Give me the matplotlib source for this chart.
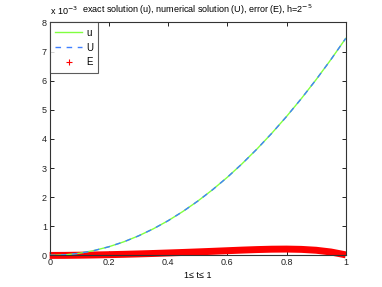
import matplotlib
matplotlib.use("Agg")
import matplotlib.pyplot as plt
from matplotlib.lines import Line2D

plt.rcParams['font.family'] = ['Liberation Sans', 'DejaVu Sans']

t = [0.00, 0.05, 0.10, 0.15, 0.20, 0.25, 0.30, 0.35, 0.40, 0.45, 0.50,
     0.55, 0.60, 0.65, 0.70, 0.75, 0.80, 0.85, 0.90, 0.95, 1.00]
u_exact = [0.000, 0.019, 0.075, 0.168, 0.298, 0.466, 0.671, 0.913, 1.192, 1.509, 1.863,
           2.254, 2.682, 3.148, 3.651, 4.191, 4.768, 5.383, 6.035, 6.724, 7.450]
U_num = [0.000, 0.019, 0.074, 0.167, 0.297, 0.465, 0.670, 0.912, 1.191, 1.508, 1.862,
         2.253, 2.681, 3.147, 3.650, 4.190, 4.767, 5.382, 6.034, 6.723, 7.450]
E_err = [0.000, 0.002, 0.008, 0.016, 0.026, 0.038, 0.052, 0.067, 0.084, 0.102, 0.121,
         0.141, 0.162, 0.183, 0.201, 0.214, 0.218, 0.208, 0.178, 0.118, 0.020]
x_ticks = [0, 0.2, 0.4, 0.6, 0.8, 1]
x_ticklabels = ['0', '0.2', '0.4', '0.6', '0.8', '1']
y_ticks = [0, 1, 2, 3, 4, 5, 6, 7, 8]

FS = 6.5
fig = plt.figure(figsize=(3.82, 2.87), dpi=100)
ax = fig.add_axes([0.13, 0.11, 0.775, 0.812])

ax.plot(t, E_err, color='red', lw=5, solid_capstyle='butt', zorder=2, clip_on=False)
ax.plot(t, E_err, color='red', lw=0, marker='+', ms=5, mew=1.5, zorder=2)
ax.plot(t, u_exact, color='#80ff40', lw=1.0, zorder=3)
ax.plot(t, U_num, color='#4080ff', lw=1.0, ls=(0, (4, 4)), zorder=4)

ax.set_xlim(0, 1)
ax.set_ylim(0, 8)
ax.set_xticks(x_ticks)
ax.set_xticklabels(x_ticklabels)
ax.set_yticks(y_ticks)
ax.tick_params(direction='in', length=3, width=0.6, labelsize=FS, top=True, right=True, pad=2,
               labelcolor='#222222')
for s in ax.spines.values():
    s.set_linewidth(0.8)
    s.set_color('#333333')

ax.set_title('exact solution (u), numerical solution (U), error (E), h=2$^{-5}$', fontsize=FS, pad=7)
ax.text(0.0, 1.025, 'x 10$^{-3}$', transform=ax.transAxes, fontsize=FS, ha='left', va='bottom')
ax.set_xlabel('1\u2264 t\u2264 1', fontsize=FS, labelpad=3)

handles = [Line2D([], [], color='#80ff40', lw=1.0),
           Line2D([], [], color='#4080ff', lw=1.0, ls=(0, (4, 4))),
           Line2D([], [], color='red', lw=0, marker='+', ms=5, mew=0.8)]
leg = ax.legend(handles, ['u', 'U', 'E'], loc='upper left', fontsize=FS + 0.5, frameon=True,
                fancybox=False, borderaxespad=0, handlelength=2.8, handletextpad=0.4,
                borderpad=0.55, labelspacing=0.5)
leg.get_frame().set_edgecolor('#333333')
leg.get_frame().set_linewidth(0.8)

fig.savefig('out.png', dpi=100)
